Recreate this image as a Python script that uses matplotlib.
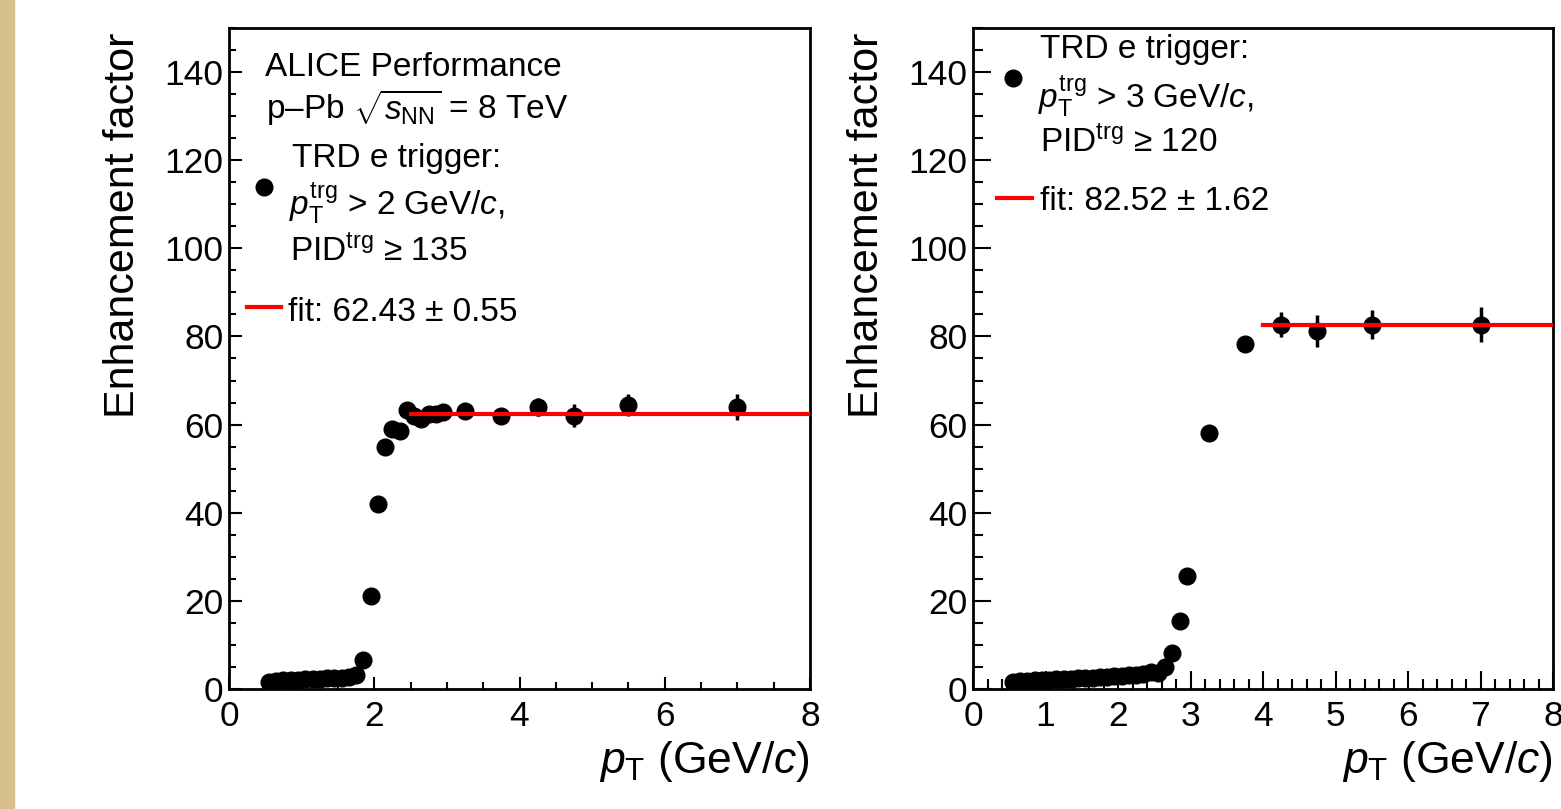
import matplotlib
matplotlib.use("Agg")
import matplotlib.pyplot as plt
from matplotlib.patches import Rectangle
from matplotlib.ticker import MultipleLocator

plt.rcParams["font.family"] = ["Liberation Sans", "DejaVu Sans"]
plt.rcParams["mathtext.fontset"] = "custom"
plt.rcParams["mathtext.rm"] = "Liberation Sans"
plt.rcParams["mathtext.it"] = "Liberation Sans:italic"
plt.rcParams["mathtext.bf"] = "Liberation Sans:bold"

# ---- data ----
pt_left = [0.55, 0.65, 0.75, 0.85, 0.95, 1.05, 1.15, 1.25, 1.35, 1.45, 1.55, 1.65, 1.75,
           1.85, 1.95, 2.05, 2.15, 2.25, 2.35, 2.45, 2.55, 2.65, 2.75, 2.85, 2.95,
           3.25, 3.75, 4.25, 4.75, 5.5, 7.0]
ef_left = [1.6, 1.9, 2.0, 2.1, 2.1, 2.2, 2.3, 2.3, 2.4, 2.5, 2.6, 2.8, 3.2,
           6.6, 21.0, 42.0, 55.0, 59.0, 58.6, 63.3, 62.0, 61.3, 62.5, 62.5, 62.8,
           63.0, 62.0, 64.0, 62.0, 64.5, 64.0]
err_left = [0.2] * 13 + [0.4, 0.8, 1.0, 1.0, 1.0, 1.0, 1.0, 1.0, 1.0, 1.0, 1.0, 1.0,
                          1.0, 1.2, 2.0, 2.6, 2.5, 3.0]
fit_left = 62.43
fit_left_range = (2.5, 8.0)

pt_right = [0.55, 0.65, 0.75, 0.85, 0.95, 1.05, 1.15, 1.25, 1.35, 1.45, 1.55, 1.65, 1.75,
            1.85, 1.95, 2.05, 2.15, 2.25, 2.35, 2.45, 2.55, 2.65, 2.75, 2.85, 2.95,
            3.25, 3.75, 4.25, 4.75, 5.5, 7.0]
ef_right = [1.5, 1.8, 1.9, 2.0, 2.1, 2.1, 2.2, 2.2, 2.3, 2.4, 2.5, 2.6, 2.7,
            2.8, 2.9, 3.0, 3.1, 3.2, 3.3, 3.8, 3.6, 5.0, 8.2, 15.5, 25.7,
            58.0, 78.3, 82.7, 81.3, 82.7, 82.7]
err_right = [0.2] * 19 + [0.3, 0.3, 0.4, 0.5, 0.7, 0.9,
                          1.2, 1.5, 2.8, 3.6, 3.2, 4.0]
fit_right = 82.52
fit_right_range = (4.0, 8.0)

left_lines = ["ALICE Performance",
              r"p–Pb $\sqrt{s_{\mathrm{NN}}}$ = 8 TeV",
              "TRD e trigger:",
              r"$p_{\mathrm{T}}^{\mathrm{trg}}$ > 2 GeV/$c$,",
              r"PID$^{\mathrm{trg}}$ ≥ 135",
              "fit: 62.43 ± 0.55"]
right_lines = ["TRD e trigger:",
               r"$p_{\mathrm{T}}^{\mathrm{trg}}$ > 3 GeV/$c$,",
               r"PID$^{\mathrm{trg}}$ ≥ 120",
               "fit: 82.52 ± 1.62"]

fig = plt.figure(figsize=(15.61, 8.09), dpi=100)
fig.patches.append(Rectangle((0, 0), 14 / 1561, 1, transform=fig.transFigure,
                             color="#d7bf8e", zorder=0))

axL = fig.add_axes([229 / 1561, 120 / 809, 581 / 1561, 661 / 809])
axR = fig.add_axes([973 / 1561, 120 / 809, 580 / 1561, 661 / 809])


def style(ax, xmajor, xminor, maj_len, min_len):
    ax.set_xlim(0, 8)
    ax.set_ylim(0, 150)
    ax.xaxis.set_major_locator(MultipleLocator(xmajor))
    ax.xaxis.set_minor_locator(MultipleLocator(xminor))
    ax.yaxis.set_major_locator(MultipleLocator(20))
    ax.yaxis.set_minor_locator(MultipleLocator(5))
    ax.tick_params(which="both", direction="in", top=False, right=False,
                   width=1.5, labelsize=25.5)
    ax.tick_params(which="major", length=maj_len)
    ax.tick_params(which="minor", length=min_len)
    ax.tick_params(axis="x", pad=8)
    ax.tick_params(axis="y", pad=4)
    for s in ax.spines.values():
        s.set_linewidth(2)
    ax.set_ylabel("Enhancement factor", fontsize=31, loc="top")
    ax.yaxis.set_label_coords(-0.148, 0.993)
    ax.set_xlabel(r"$p_{\mathrm{T}}$ (GeV/$c$)", fontsize=32, loc="right")
    ax.xaxis.set_label_coords(1.0, -0.075)


style(axL, 2, 0.5, 9, 5)
style(axR, 1, 0.2, 13, 7)

for ax, x, y, e, fv, fr in [(axL, pt_left, ef_left, err_left, fit_left, fit_left_range),
                            (axR, pt_right, ef_right, err_right, fit_right, fit_right_range)]:
    ax.errorbar(x, y, yerr=e, fmt="o", color="black", ms=12, elinewidth=2.5,
                capsize=0, zorder=3)
    ax.plot(fr, [fv, fv], color="red", lw=3, zorder=4)

# legends / labels
tL = axL.get_yaxis_transform()
axL.text(0.062, 139.1, left_lines[0], transform=tL, fontsize=24)
axL.text(0.063, 129.3, left_lines[1], transform=tL, fontsize=24)
axL.text(0.108, 118.4, left_lines[2], transform=tL, fontsize=24)
axL.text(0.103, 107.7, left_lines[3], transform=tL, fontsize=24)
axL.text(0.105, 97.0, left_lines[4], transform=tL, fontsize=24)
axL.text(0.102, 83.4, left_lines[5], transform=tL, fontsize=24)
axL.plot([0.060], [114], "o", color="black", ms=12, transform=tL, clip_on=False)
axL.plot([0.031, 0.090], [86.8, 86.8], color="red", lw=3, transform=tL, clip_on=False)

tR = axR.get_yaxis_transform()
axR.text(0.1155, 143.2, right_lines[0], transform=tR, fontsize=24)
axR.text(0.112, 132.0, right_lines[1], transform=tR, fontsize=24)
axR.text(0.1155, 121.8, right_lines[2], transform=tR, fontsize=24)
axR.text(0.1155, 108.6, right_lines[3], transform=tR, fontsize=24)
axR.plot([0.069], [138.6], "o", color="black", ms=12, transform=tR, clip_on=False)
axR.plot([0.041, 0.101], [111.4, 111.4], color="red", lw=3, transform=tR, clip_on=False)

fig.savefig("out.png", dpi=100)
